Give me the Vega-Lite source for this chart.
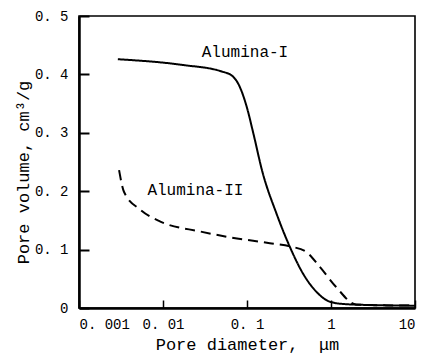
{
  "$schema": "https://vega.github.io/schema/vega-lite/v6.json",
  "autosize": "none",
  "padding": {"left": 79, "top": 16, "right": 10, "bottom": 49},
  "width": 336,
  "height": 292,
  "config": {
    "view": {"stroke": "black", "strokeWidth": 1.6},
    "font": "Liberation Mono",
    "axis": {"grid": false, "domainColor": "black", "domainWidth": 2.5, "tickColor": "black", "labelColor": "black", "titleColor": "black", "labelFont": "Liberation Mono", "titleFont": "Liberation Mono", "titleFontWeight": "normal"}
  },
  "datasets": {
    "curves": [
      {"series": "Alumina-I", "d": 0.0029, "v": 0.426},
      {"series": "Alumina-I", "d": 0.0176, "v": 0.416},
      {"series": "Alumina-I", "d": 0.05, "v": 0.405},
      {"series": "Alumina-I", "d": 0.066, "v": 0.398},
      {"series": "Alumina-I", "d": 0.08, "v": 0.382},
      {"series": "Alumina-I", "d": 0.099, "v": 0.345},
      {"series": "Alumina-I", "d": 0.119, "v": 0.299},
      {"series": "Alumina-I", "d": 0.152, "v": 0.234},
      {"series": "Alumina-I", "d": 0.224, "v": 0.162},
      {"series": "Alumina-I", "d": 0.323, "v": 0.105},
      {"series": "Alumina-I", "d": 0.464, "v": 0.059},
      {"series": "Alumina-I", "d": 0.668, "v": 0.028},
      {"series": "Alumina-I", "d": 0.96, "v": 0.011},
      {"series": "Alumina-I", "d": 1.38, "v": 0.007},
      {"series": "Alumina-I", "d": 3.0, "v": 0.005},
      {"series": "Alumina-I", "d": 10, "v": 0.004},
      {"series": "Alumina-II", "d": 0.003, "v": 0.236},
      {"series": "Alumina-II", "d": 0.00343, "v": 0.199},
      {"series": "Alumina-II", "d": 0.0054, "v": 0.168},
      {"series": "Alumina-II", "d": 0.0093, "v": 0.148},
      {"series": "Alumina-II", "d": 0.0278, "v": 0.131},
      {"series": "Alumina-II", "d": 0.063, "v": 0.121},
      {"series": "Alumina-II", "d": 0.187, "v": 0.111},
      {"series": "Alumina-II", "d": 0.338, "v": 0.105},
      {"series": "Alumina-II", "d": 0.508, "v": 0.096},
      {"series": "Alumina-II", "d": 0.731, "v": 0.071},
      {"series": "Alumina-II", "d": 1.15, "v": 0.036},
      {"series": "Alumina-II", "d": 1.99, "v": 0.006},
      {"series": "Alumina-II", "d": 10, "v": 0.004}
    ],
    "labels": [
      {"text": "Alumina-I", "d": 0.0946, "v": 0.438},
      {"text": "Alumina-II", "d": 0.0243, "v": 0.202}
    ]
  },
  "encoding": {
    "x": {
      "field": "d", "type": "quantitative",
      "scale": {"type": "log", "domain": [0.001, 10], "nice": false},
      "axis": {
        "title": "Pore diameter,\u00a0 μm",
        "values": [0.001, 0.01, 0.1, 1, 10],
        "labelExpr": "datum.value >= 1 ? format(datum.value, 'd') : replace(format(datum.value, '~g'), '.', '. ')",
        "tickSize": -8, "tickWidth": 1.5, "labelPadding": 17,
        "labelFontSize": 14, "titleFontSize": 17, "titlePadding": 5
      }
    },
    "y": {
      "field": "v", "type": "quantitative",
      "scale": {"domain": [0, 0.5], "nice": false},
      "axis": {
        "title": "Pore volume,\u00a0cm³/g",
        "values": [0, 0.1, 0.2, 0.3, 0.4, 0.5],
        "labelExpr": "datum.value == 0 ? '0' : replace(format(datum.value, '.1f'), '.', '. ')",
        "tickSize": -10, "tickWidth": 2, "labelPadding": 21,
        "labelFontSize": 14, "titleFontSize": 17,
        "titleX": -47, "titleY": 156, "titleBaseline": "bottom"
      }
    }
  },
  "layer": [
    {
      "data": {"name": "curves"},
      "mark": {"type": "line", "color": "black", "strokeWidth": 2, "interpolate": "monotone"},
      "encoding": {
        "detail": {"field": "series"},
        "strokeDash": {
          "field": "series", "type": "nominal",
          "scale": {"domain": ["Alumina-I", "Alumina-II"], "range": [[1, 0], [10, 6]]},
          "legend": null
        }
      }
    },
    {
      "data": {"name": "labels"},
      "mark": {"type": "text", "fontSize": 16, "font": "Liberation Mono", "color": "black"},
      "encoding": {"text": {"field": "text"}}
    }
  ]
}
